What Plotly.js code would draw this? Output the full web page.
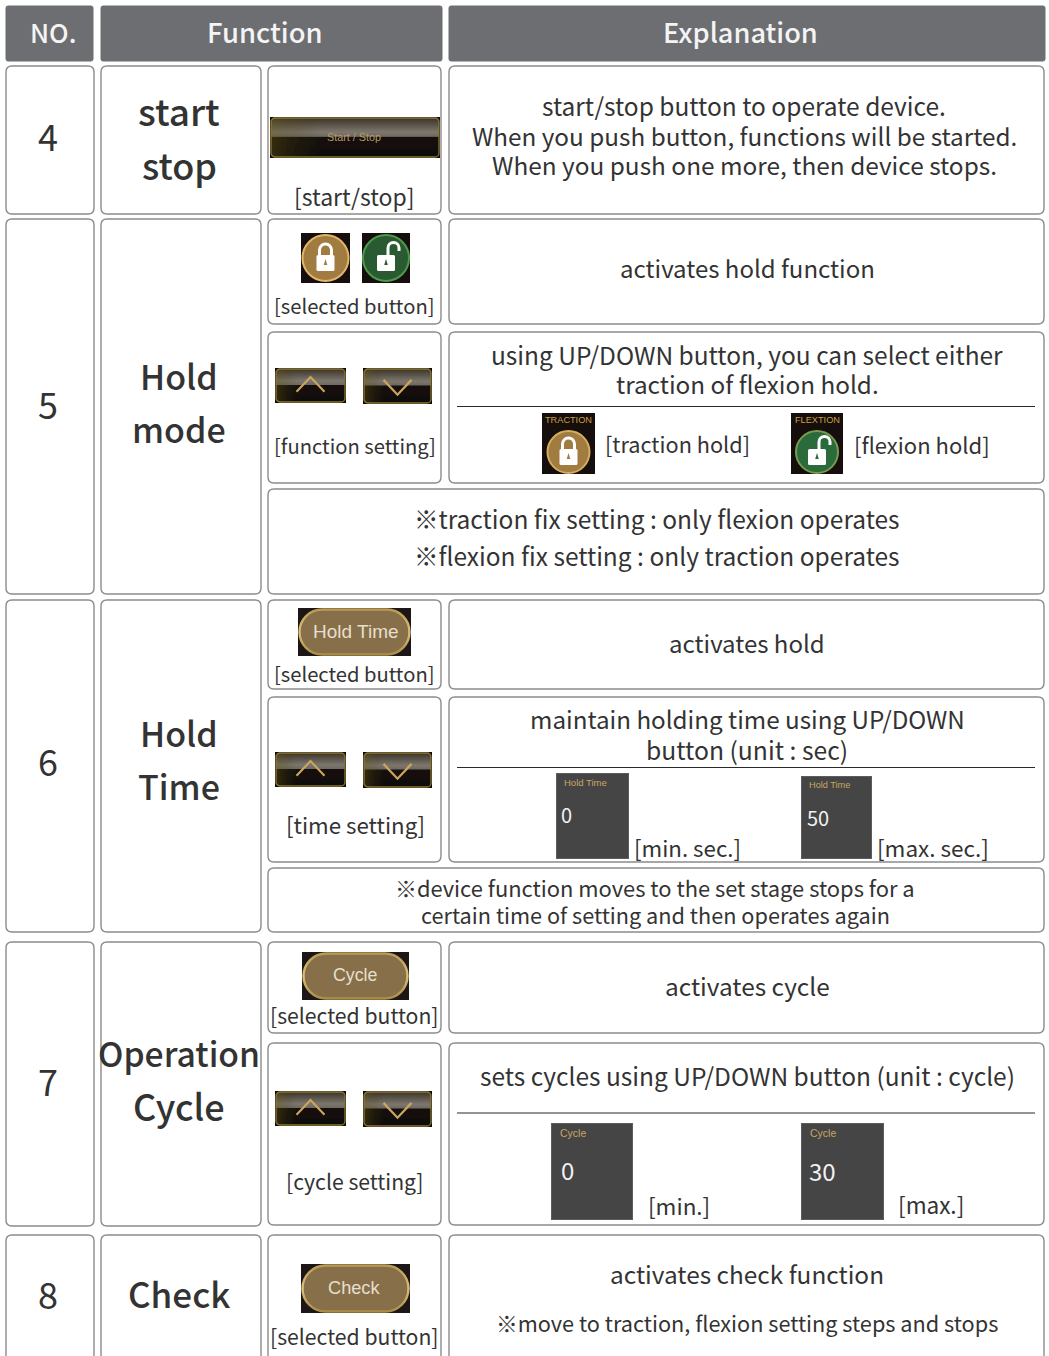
<!DOCTYPE html>
<html><head><meta charset="utf-8">
<script src="https://cdn.plot.ly/plotly-3.0.1.min.js"></script>
<style>html,body{margin:0;padding:0;background:#fff}#g{width:1049px;height:1356px}</style>
</head><body><div id="g"></div>
<script>
// ---- content ----
const headerLabels = ['NO.', 'Function', 'Explanation'];
const rowNumbers = ['4', '5', '6', '7', '8'];
const functionLines = ['start', 'stop', 'Hold', 'mode', 'Hold', 'Time', 'Operation', 'Cycle', 'Check'];
const captions = ['[start/stop]', '[selected button]', '[function setting]', '[selected button]', '[time setting]', '[selected button]', '[cycle setting]', '[selected button]'];
const explanations = [
  'start/stop button to operate device.',
  'When you push button, functions will be started.',
  'When you push one more, then device stops.',
  'activates hold function',
  'using UP/DOWN button, you can select either',
  'traction of flexion hold.',
  '[traction hold]', '[flexion hold]',
  'activates hold',
  'maintain holding time using UP/DOWN',
  'button (unit : sec)',
  '[min. sec.]', '[max. sec.]',
  'activates cycle',
  'sets cycles using UP/DOWN button (unit : cycle)',
  '[min.]', '[max.]',
  'activates check function'
];
const notes = [
  '※traction fix setting : only flexion operates',
  '※flexion fix setting : only traction operates',
  '※device function moves to the set stage stops for a',
  'certain time of setting and then operates again',
  '※move to traction, flexion setting steps and stops'
];
const pillLabels = ['Hold Time', 'Cycle', 'Check'];
const panelTitles = ['Hold Time', 'Hold Time', 'Cycle', 'Cycle'];
const panelValues = ['0', '50', '0', '30'];
const iconTitles = ['TRACTION', 'FLEXTION'];
const startStopLabel = 'Start / Stop';

// ---- page layout ----
const FONT = '"Noto Sans CJK KR","Noto Sans",sans-serif';
const ARIAL = '"Liberation Sans",Arial,sans-serif';
const INK = '#333333', EDGE = '#8c8c8c';

const cellBoxes = [
  [6,66,94,214],[101,66,261,214],[268,66,441,214],[449,66,1044,214],
  [6,219,94,594],[101,219,261,594],[268,219,441,324],[449,219,1044,324],[268,332,441,483],[449,332,1044,483],[268,489,1044,594],
  [6,600,94,932],[101,600,261,932],[268,600,441,689],[449,600,1044,689],[268,697,441,862],[449,697,1044,862],[268,868,1044,932],
  [6,942,94,1226],[101,942,261,1226],[268,942,441,1033],[449,942,1044,1033],[268,1043,441,1225],[449,1043,1044,1225],
  [6,1235,94,1420],[101,1235,261,1420],[268,1235,441,1420],[449,1235,1044,1420]
];
const headerBoxes = [[6,6,93,61],[101,6,442,61],[449,6,1045,61]];
const ruleYs = [406.5, 767.5, 1113];

function rr(b, r) {
  const [x0,y0,x1,y1] = b;
  return `M${x0+r},${y0}H${x1-r}Q${x1},${y0} ${x1},${y0+r}V${y1-r}Q${x1},${y1} ${x1-r},${y1}H${x0+r}Q${x0},${y1} ${x0},${y1-r}V${y0+r}Q${x0},${y0} ${x0+r},${y0}Z`;
}
const shapes = [];
cellBoxes.forEach(b => shapes.push({type:'path', path:rr(b,6), line:{color:EDGE,width:1.4}, fillcolor:'#ffffff', layer:'below'}));
headerBoxes.forEach(b => shapes.push({type:'path', path:rr(b,2), line:{color:'#6d6e71',width:1}, fillcolor:'#6d6e71', layer:'below'}));
ruleYs.forEach(y => shapes.push({type:'line', x0:457, x1:1035, y0:y, y1:y, line:{color:'#2a2a2a',width:1.2}, layer:'above'}));

// ---- icon artwork ----
function uri(w,h,body){
  const s = `<svg xmlns="http://www.w3.org/2000/svg" width="${w}" height="${h}" viewBox="0 0 ${w} ${h}"><defs>`+
   `<filter id="b"><feGaussianBlur stdDeviation="0.4"/></filter>`+
   `<linearGradient id="v" x1="0" y1="0" x2="0" y2="1"><stop offset="0" stop-color="#3a3428"/><stop offset=".36" stop-color="#7c766d"/><stop offset=".47" stop-color="#6f6a61"/><stop offset=".5" stop-color="#15110a"/><stop offset="1" stop-color="#0f0c06"/></linearGradient>`+
   `<linearGradient id="h" x1="0" y1="0" x2="1" y2="0"><stop offset="0" stop-color="#6a5818" stop-opacity=".4"/><stop offset=".3" stop-color="#3a300c" stop-opacity="0"/></linearGradient>`+
   `<linearGradient id="g" x1="0" y1="0" x2="0" y2="1"><stop offset="0" stop-color="#b89a55"/><stop offset=".5" stop-color="#dcc07a"/><stop offset="1" stop-color="#a98c48"/></linearGradient>`+
   `</defs><g filter="url(#b)">${body}</g></svg>`;
  return 'data:image/svg+xml;charset=utf-8,' + encodeURIComponent(s);
}
function darkBar(w,h,glyph){
  return uri(w,h,`<rect width="${w}" height="${h}" fill="#0d0b06"/><rect x="1" y="1" width="${w-2}" height="${h-2}" rx="4" fill="url(#v)"/><rect x="1" y="1" width="${w-2}" height="${h-2}" rx="4" fill="url(#h)"/><rect x="1" y="1" width="${w-2}" height="${h-2}" rx="4" fill="none" stroke="#8a7536" stroke-width="1.3"/>${glyph}`);
}
function chevron(w,h,up){
  const cx=w/2, a=up?h*.68:h*.33, b=up?h*.26:h*.74;
  return `<path d="M${cx-14},${a}L${cx},${b}L${cx+14},${a}" fill="none" stroke="#c9a55f" stroke-width="2.2"/>`;
}
function lock(cx,cy,open,ring,fill,r){
  const sh = open
   ? `<path d="M${cx+2},${cy-3}v-7a5.5,5.5 0 0 1 11,0v3" fill="none" stroke="#fff" stroke-width="3"/>`
   : `<path d="M${cx-6},${cy-2}v-6a6,6 0 0 1 12,0v6" fill="none" stroke="#fff" stroke-width="3"/>`;
  return `<circle cx="${cx}" cy="${cy}" r="${r}" fill="${fill}" stroke="${ring}" stroke-width="2"/>${sh}<rect x="${cx-9}" y="${cy-3}" width="18" height="16" rx="1.5" fill="#fff"/><path d="M${cx},${cy+1}l1.8,6h-3.6z" fill="${fill}"/>`;
}
function lockTile(w,h,open){
  return uri(w,h,`<rect width="${w}" height="${h}" fill="#14100a"/>`+lock(w/2,h/2,open,open?'#4d9a4d':'#e3b56a',open?'#2c5a30':'#a07c3f',23));
}
function modeTile(w,h,open){
  return uri(w,h,`<rect width="${w}" height="${h}" fill="#14100a"/>`+lock(w/2,h-22,open,open?'#7a9a4d':'#d8ac60',open?'#2c6a3a':'#a07c3f',21));
}
function pill(w,h){
  return uri(w,h,`<rect width="${w}" height="${h}" fill="#1c1814"/><rect x="1.5" y="1.5" width="${w-3}" height="${h-3}" rx="${(h-3)/2}" fill="#87704a" stroke="url(#g)" stroke-width="2.4"/>`);
}
function panel(w,h){
  return uri(w,h,`<rect width="${w}" height="${h}" fill="#444444"/><rect x=".5" y=".5" width="${w-1}" height="${h-1}" fill="none" stroke="#5c5c5c"/>`);
}
const imagery = [
  [270,117,170,41, darkBar(170,41,'')],
  [301,233,49,50, lockTile(49,50,false)],
  [362,233,48,50, lockTile(48,50,true)],
  [275,368,71,35, darkBar(71,35,chevron(71,35,true))],
  [363,368,69,36, darkBar(69,36,chevron(69,36,false))],
  [275,752,71,35, darkBar(71,35,chevron(71,35,true))],
  [363,752,69,36, darkBar(69,36,chevron(69,36,false))],
  [275,1091,71,35, darkBar(71,35,chevron(71,35,true))],
  [363,1091,69,36, darkBar(69,36,chevron(69,36,false))],
  [542,413,53,61, modeTile(53,61,false)],
  [791,413,52,61, modeTile(52,61,true)],
  [298,608,113,48, pill(113,48)],
  [302,952,107,48, pill(107,48)],
  [301,1264,109,49, pill(109,49)],
  [556,773,73,86, panel(73,86)],
  [801,776,71,83, panel(71,83)],
  [551,1123,82,97, panel(82,97)],
  [801,1123,83,97, panel(83,97)]
];
const images = imagery.map(([x,y,w,h,src]) => ({source:src, xref:'x', yref:'y', x, y, sizex:w, sizey:h, xanchor:'left', yanchor:'top', sizing:'stretch', layer:'above'}));

// ---- text placement ----
const annotations = [];
function T(text,x,y,size,opt={}){
  const fam = opt.family||FONT;
  // the CJK face sits low in its line box; lift it back onto the reference line
  const lift = fam===FONT ? Math.max(0, 0.11*size-1.3) : 0;
  annotations.push({text, x:opt.anchor==='left'?x-2:x, y:y-lift, xref:'x', yref:'y', showarrow:false, xanchor:opt.anchor||'center', yanchor:'middle',
    font:{family:fam, size, color:opt.color||INK, weight:opt.weight||400}});
}
[[53,26],[265,27.4],[740,27.2]].forEach(([x,s],i)=>T(headerLabels[i],x,33,s,{color:'#f4f4f4',weight:500}));
[138,406,763,1083,1296].forEach((y,i)=>T(rowNumbers[i],48,y,36));
[[113,37],[167,36],[378,34],[431,34],[735,34],[788,34],[1055,33.7],[1108,36],[1295,35]].forEach(([y,s],i)=>T(functionLines[i],179,y,s,{weight:500}));
[[354,197,23],[354,306,20.2],[355,446,20.2],[354,674,20.2],[355,825,22.3],[354,1016,21.2],[355,1182,21.2],[354,1337,21.2]]
  .forEach(([x,y,s],i)=>T(captions[i],x,y,s));
[[744,107,24.5],[744,137,24.3],[744,166,24.4],[747,269,24],[747,356,24.5],[747,385,24.3],[677,445,21.7],[922,445,22],[747,644,24],[747,720,24.2],[747,750,24.7],[687,848,22.3],[933,848,22.5],[747,987,24.4],[747,1077,24.5],[679,1206,22.5],[931,1206,22.6],[747,1275,24.4]]
  .forEach(([x,y,s],i)=>T(explanations[i],x,y,s));
[[657,520,24.5],[657,557,24.5],[655,889,21.9],[655,916,21.7],[747,1324,21.7]].forEach(([x,y,s],i)=>T(notes[i],x,y,s));
T(startStopLabel,354,137,10.8,{family:ARIAL,color:'#b59a62'});
[[356,631,19],[355,975,17.8],[354,1288,18.2]].forEach(([x,y,s],i)=>T(pillLabels[i],x,y,s,{family:ARIAL,color:'#e6dfcf'}));
[[564,782,9.5],[809,785,9.2],[560,1133,10.5],[810,1133,10.5]].forEach(([x,y,s],i)=>T(panelTitles[i],x,y,s,{family:ARIAL,color:'#c9a566',anchor:'left'}));
[[561,815,20],[807,818,20],[561,1171,24],[809,1172,24]].forEach(([x,y,s],i)=>T(panelValues[i],x,y,s,{color:'#f2f2f2',anchor:'left'}));
[[568.5,420,9.2],[817,420,9.2]].forEach(([x,y,s],i)=>T(iconTitles[i],x,y,s,{family:ARIAL,color:'#c9a040'}));

const hidden = {visible:false, fixedrange:true};
Plotly.newPlot('g', [], {
  width:1049, height:1356, margin:{l:0,r:0,t:0,b:0},
  paper_bgcolor:'#fff', plot_bgcolor:'#fff', showlegend:false,
  xaxis:Object.assign({range:[0,1049]},hidden),
  yaxis:Object.assign({range:[1356,0]},hidden),
  shapes, images, annotations
}, {displayModeBar:false, staticPlot:true});
</script></body></html>
